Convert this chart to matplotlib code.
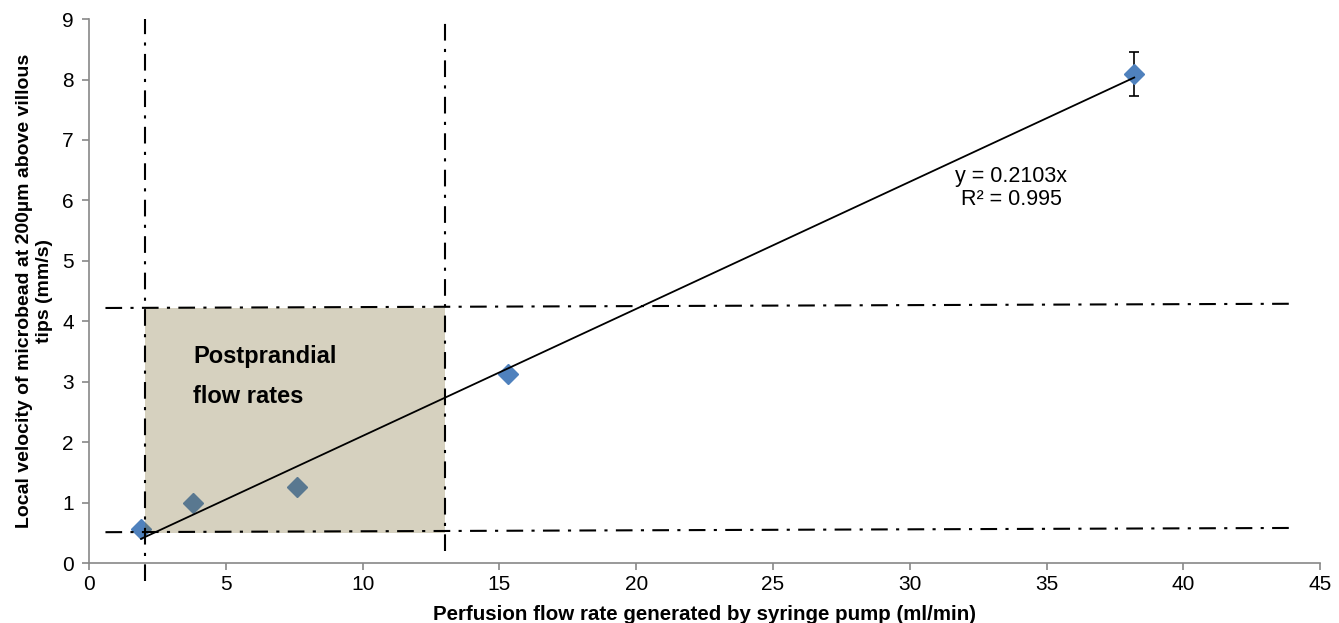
import matplotlib.pyplot as plt
import numpy as np

plt.rcParams['font.family'] = ['Liberation Sans', 'DejaVu Sans']

# measured points
flow = [1.9, 3.8, 7.6, 15.3, 38.2]
velocity = [0.57, 0.99, 1.26, 3.13, 8.09]
err = [0.0, 0.0, 0.0, 0.0, 0.36]
slope = 0.2103

# postprandial window
x_lo, x_hi = 2.05, 13.0
y_lo, y_hi = 0.5, 4.22

fig = plt.figure(figsize=(13.39, 6.23), dpi=100)
ax = fig.add_axes([0.0665, 0.0963, 0.9195, 0.873])

ax.errorbar(flow, velocity, yerr=err, fmt='D', color='#4f81bd', ms=10.5,
            ecolor='black', elinewidth=1.2, capsize=3.5, capthick=1.2, zorder=3)

xf = np.array([flow[0], flow[-1]])
ax.plot(xf, slope * xf, color='black', lw=1.3, zorder=4)

ax.fill_between([x_lo, x_hi], y_lo, y_hi, color='#736325', alpha=0.29,
                lw=0, zorder=3.5)

dash = (0, (8, 4, 1.5, 4))
ax.plot([x_lo, x_lo], [-0.3, 9], color='black', lw=1.5, ls=dash, clip_on=False, zorder=5)
ax.plot([x_hi, x_hi], [0.2, 9], color='black', lw=1.5, ls=dash, zorder=5)
ax.plot([0.6, 44.0], [4.22, 4.29], color='black', lw=1.5, ls=dash, zorder=5)
ax.plot([0.6, 44.0], [0.51, 0.58], color='black', lw=1.5, ls=dash, zorder=5)

ax.text(3.8, 3.41, 'Postprandial', fontsize=17, fontweight='bold', va='center', zorder=6)
ax.text(3.8, 2.75, 'flow rates', fontsize=17, fontweight='bold', va='center', zorder=6)

ax.text(33.7, 6.39, 'y = 0.2103x', fontsize=15.5, ha='center', va='center')
ax.text(33.7, 6.02, 'R² = 0.995', fontsize=15.5, ha='center', va='center')

ax.set_xlim(0, 45)
ax.set_ylim(0, 9)
ax.set_xticks(range(0, 46, 5))
ax.set_yticks(range(0, 10))
for s in ['top', 'right']:
    ax.spines[s].set_visible(False)
for s in ['left', 'bottom']:
    ax.spines[s].set_color('#888888')
    ax.spines[s].set_linewidth(1.2)
ax.tick_params(colors='#888888', labelcolor='black', labelsize=15, length=5, width=1.2)
ax.tick_params(axis='y', pad=6)

ax.set_xlabel('Perfusion flow rate generated by syringe pump (ml/min)',
              fontsize=14.8, fontweight='bold', labelpad=8)
fig.text(0.018, 0.533, 'Local velocity of microbead at 200µm above villous',
         rotation=90, fontsize=14, fontweight='bold', ha='center', va='center')
fig.text(0.0335, 0.533, 'tips (mm/s)',
         rotation=90, fontsize=14, fontweight='bold', ha='center', va='center')

fig.savefig('out.png', dpi=100)
